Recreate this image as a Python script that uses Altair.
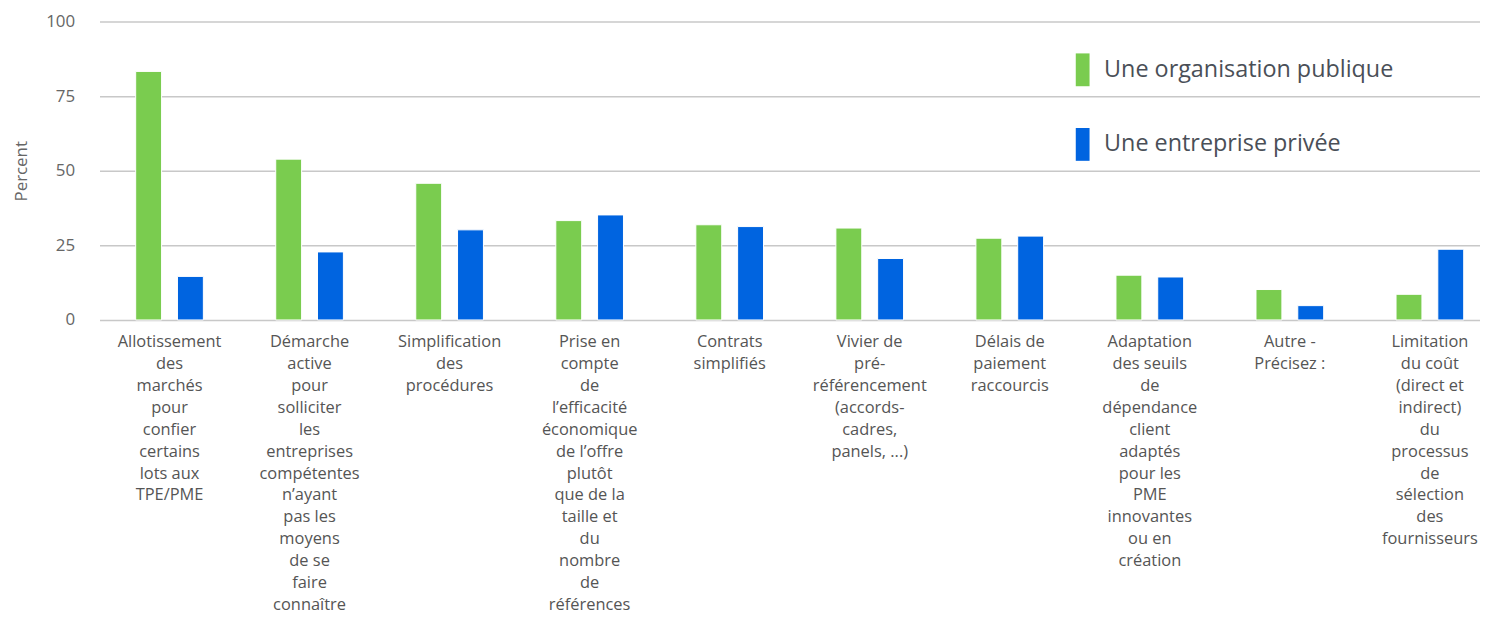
import altair as alt
import pandas as pd

category_lines = [
    ["Allotissement", "des", "marchés", "pour", "confier", "certains", "lots aux", "TPE/PME"],
    ["Démarche", "active", "pour", "solliciter", "les", "entreprises", "compétentes", "n’ayant",
     "pas les", "moyens", "de se", "faire", "connaître"],
    ["Simplification", "des", "procédures"],
    ["Prise en", "compte", "de", "l’efficacité", "économique", "de l’offre", "plutôt", "que de la",
     "taille et", "du", "nombre", "de", "références"],
    ["Contrats", "simplifiés"],
    ["Vivier de", "pré-", "référencement", "(accords-", "cadres,", "panels, ...)"],
    ["Délais de", "paiement", "raccourcis"],
    ["Adaptation", "des seuils", "de", "dépendance", "client", "adaptés", "pour les", "PME",
     "innovantes", "ou en", "création"],
    ["Autre -", "Précisez :"],
    ["Limitation", "du coût", "(direct et", "indirect)", "du", "processus", "de", "sélection",
     "des", "fournisseurs"],
]
series_names = ["Une organisation publique", "Une entreprise privée"]
publique = [83.3, 53.9, 45.8, 33.3, 31.9, 30.8, 27.4, 15.0, 10.2, 8.6]
privee = [14.6, 22.8, 30.2, 35.2, 31.3, 20.6, 28.1, 14.4, 4.8, 23.7]
y_ticks = [0, 25, 50, 75, 100]

categories = ["|".join(lines) for lines in category_lines]
rows = []
for c, a, b in zip(categories, publique, privee):
    rows.append({"cat": c, "serie": series_names[0], "val": a})
    rows.append({"cat": c, "serie": series_names[1], "val": b})
df = pd.DataFrame(rows)

FONT = "Open Sans"

chart = alt.Chart(df).mark_bar(stroke="white", strokeWidth=1).encode(
    x=alt.X(
        "cat:N",
        sort=categories,
        scale=alt.Scale(paddingInner=0, paddingOuter=0),
        axis=alt.Axis(
            title=None,
            labelAngle=0,
            labelExpr="split(datum.value, '|')",
            labelFont=FONT,
            labelFontSize=16.5,
            labelColor="#555555",
            labelLineHeight=22.0,
            labelPadding=14,
            labelBaseline="top",
            labelOverlap=False,
            labelLimit=0,
            ticks=False,
            domain=False,
            grid=False,
        ),
    ),
    xOffset=alt.XOffset(
        "serie:N",
        sort=series_names,
        scale=alt.Scale(paddingInner=0.38, paddingOuter=0.866),
    ),
    y=alt.Y(
        "val:Q",
        scale=alt.Scale(domain=[0, 100], nice=False),
        axis=alt.Axis(
            title="Percent",
            values=y_ticks,
            titleFont=FONT,
            titleFontSize=17,
            titleFontWeight="normal",
            titleColor="#666666",
            titlePadding=15,
            labelFont=FONT,
            labelFontSize=17,
            labelColor="#666666",
            labelPadding=25,
            ticks=False,
            domain=False,
            grid=True,
            gridColor="#c8c8c8",
            gridWidth=1.5,
        ),
    ),
    color=alt.Color(
        "serie:N",
        sort=series_names,
        scale=alt.Scale(domain=series_names, range=["#7acc4f", "#0064e0"]),
        legend=alt.Legend(
            title=None,
            orient="none",
            legendX=972,
            legendY=32,
            symbolType="M-0.42,-1L0.42,-1L0.42,1L-0.42,1Z",
            symbolSize=1089,
            symbolStrokeWidth=0,
            labelFont=FONT,
            labelFontSize=23.5,
            labelColor="#4a4f57",
            labelOffset=5,
            rowPadding=42,
            padding=0,
            labelLimit=400,
        ),
    ),
).properties(
    width=1408,
    height=300,
    autosize=alt.AutoSizeParams(type="none"),
    padding={"left": 92, "top": 12, "right": -20, "bottom": 297},
).configure_view(stroke=None)

chart.save("out.html", embed_options={"renderer": "svg", "actions": False})
